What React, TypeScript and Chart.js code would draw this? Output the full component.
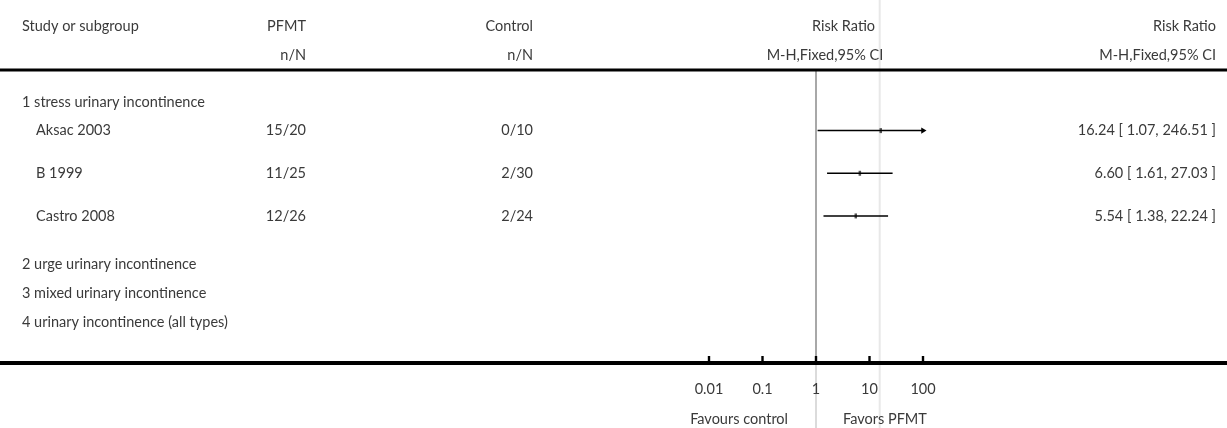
import React, { useEffect, useRef } from "react";
import { Chart, registerables } from "chart.js";

Chart.register(...registerables);

// ---- data ----
const studies = ["Aksac 2003", "B 1999", "Castro 2008"];
const pfmtCounts = ["15/20", "11/25", "12/26"];
const controlCounts = ["0/10", "2/30", "2/24"];
const riskRatio = [16.24, 6.6, 5.54];
const ciLower = [1.07, 1.61, 1.38];
const ciUpper = [246.51, 27.03, 22.24];
const groups = [
  "1 stress urinary incontinence",
  "2 urge urinary incontinence",
  "3 mixed urinary incontinence",
  "4 urinary incontinence (all types)",
];
const tickValues = [0.01, 0.1, 1, 10, 100];
const tickLabels = ["0.01", "0.1", "1", "10", "100"];
const axisMin = 0.01;
const axisMax = 100;
const nullValue = 1;
const refValue = 15.5;
const favourLeft = "Favours control";
const favourRight = "Favors PFMT";

// ---- layout ----
const W = 1227;
const H = 428;
const ROW_H = 44;
const ROW0 = 128;
const L = {
  head1: 26,
  head2: 55,
  topRule: 70,
  groupY: [102, 264, 293, 322],
  bottomRule: 363,
  tickLab: 389,
  favours: 419,
  colStudy: 22,
  colStudyIndent: 36,
  colPfmt: 306,
  colControl: 533,
  colRight: 1216,
  plotLeft: 709,
  plotRight: 923,
};
const FONT = "14.5px Lato, 'Open Sans', sans-serif";
const TEXT = "#3a3a3a";

export default function App() {
  const ref = useRef<HTMLCanvasElement | null>(null);

  useEffect(() => {
    if (!ref.current) return;

    const forestPlugin = {
      id: "forest",
      beforeDatasetsDraw(chart: any) {
        const ctx = chart.ctx;
        const x = chart.scales.x;
        ctx.save();
        // light reference line
        const xr = x.getPixelForValue(refValue);
        ctx.strokeStyle = "#e8e8e8";
        ctx.lineWidth = 2;
        ctx.beginPath();
        ctx.moveTo(xr, 0);
        ctx.lineTo(xr, H);
        ctx.stroke();
        // null line
        const x1 = x.getPixelForValue(nullValue);
        ctx.strokeStyle = "#a8a8a8";
        ctx.lineWidth = 2;
        ctx.beginPath();
        ctx.moveTo(x1, L.topRule);
        ctx.lineTo(x1, L.bottomRule);
        ctx.stroke();
        ctx.strokeStyle = "#cfcfcf";
        ctx.lineWidth = 1.5;
        ctx.beginPath();
        ctx.moveTo(x1, L.bottomRule);
        ctx.lineTo(x1, H);
        ctx.stroke();
        // rules
        ctx.fillStyle = "#000";
        ctx.fillRect(0, L.topRule - 1.5, W, 3);
        ctx.fillRect(0, L.bottomRule - 2, W, 4);
        // ticks
        tickValues.forEach((v) => {
          const px = x.getPixelForValue(v);
          ctx.fillRect(px - 1.2, L.bottomRule - 7, 2.4, 6);
        });
        ctx.restore();
      },
      afterDraw(chart: any) {
        const ctx = chart.ctx;
        const x = chart.scales.x;
        const y = chart.scales.y;
        ctx.save();
        ctx.font = FONT;
        ctx.fillStyle = TEXT;
        ctx.textBaseline = "middle";
        const txt = (s: string, px: number, py: number, align: CanvasTextAlign) => {
          ctx.textAlign = align;
          ctx.fillText(s, px, py);
        };
        // header
        txt("Study or subgroup", L.colStudy, L.head1, "left");
        txt("PFMT", L.colPfmt, L.head1, "right");
        txt("n/N", L.colPfmt, L.head2, "right");
        txt("Control", L.colControl, L.head1, "right");
        txt("n/N", L.colControl, L.head2, "right");
        txt("Risk Ratio", 843.5, L.head1, "center");
        txt("M-H,Fixed,95% CI", 825, L.head2, "center");
        txt("Risk Ratio", L.colRight, L.head1, "right");
        txt("M-H,Fixed,95% CI", L.colRight, L.head2, "right");
        // groups
        groups.forEach((g, i) => txt(g, L.colStudy, L.groupY[i], "left"));
        // studies
        studies.forEach((s, i) => {
          const py = y.getPixelForValue(i);
          txt(s, L.colStudyIndent, py, "left");
          txt(pfmtCounts[i], L.colPfmt, py, "right");
          txt(controlCounts[i], L.colControl, py, "right");
          txt(
            `${riskRatio[i].toFixed(2)} [ ${ciLower[i].toFixed(2)}, ${ciUpper[i].toFixed(2)} ]`,
            L.colRight,
            py,
            "right"
          );
        });
        // tick labels
        tickValues.forEach((v, i) => {
          txt(tickLabels[i], x.getPixelForValue(v), L.tickLab, "center");
        });
        const x1 = x.getPixelForValue(nullValue);
        txt(favourLeft, x1 - 28, L.favours, "right");
        txt(favourRight, x1 + 27, L.favours, "left");
        ctx.restore();
      },
    };

    const ciSets = studies.map((_, i) => ({
      type: "line" as const,
      data: [
        { x: ciLower[i], y: i },
        { x: Math.min(ciUpper[i], axisMax), y: i },
      ],
      borderColor: "#000",
      borderWidth: 1.5,
      pointRadius: 0,
      clip: false as any,
    }));

    const pointSet = {
      type: "scatter" as const,
      data: riskRatio.map((v, i) => ({ x: v, y: i })),
      pointStyle: "line" as const,
      rotation: 90,
      pointRadius: 2.5,
      borderWidth: 2.5,
      borderColor: "#555",
      clip: false as any,
    };

    const arrowSet = {
      type: "scatter" as const,
      data: ciUpper
        .map((v, i) => (v > axisMax ? { x: axisMax, y: i } : null))
        .filter((d) => d !== null) as { x: number; y: number }[],
      pointStyle: "triangle" as const,
      rotation: 90,
      pointRadius: 3.5,
      backgroundColor: "#000",
      borderColor: "#000",
      borderWidth: 0,
      clip: false as any,
    };

    const chart = new Chart(ref.current, {
      type: "scatter",
      data: { datasets: [...ciSets, pointSet, arrowSet] as any },
      options: {
        animation: false,
        responsive: true,
        maintainAspectRatio: false,
        layout: {
          padding: { left: L.plotLeft, right: W - L.plotRight, top: 0, bottom: 0 },
        },
        scales: {
          x: { type: "logarithmic", min: axisMin, max: axisMax, display: false },
          y: {
            type: "linear",
            min: -ROW0 / ROW_H,
            max: (H - ROW0) / ROW_H,
            reverse: true,
            display: false,
          },
        },
        plugins: { legend: { display: false }, tooltip: { enabled: false } },
        events: [],
      },
      plugins: [forestPlugin],
    });
    return () => chart.destroy();
  }, []);

  return (
    <div style={{ position: "fixed", left: 0, top: 0, width: W, height: H, background: "#fff" }}>
      <canvas ref={ref} />
    </div>
  );
}
